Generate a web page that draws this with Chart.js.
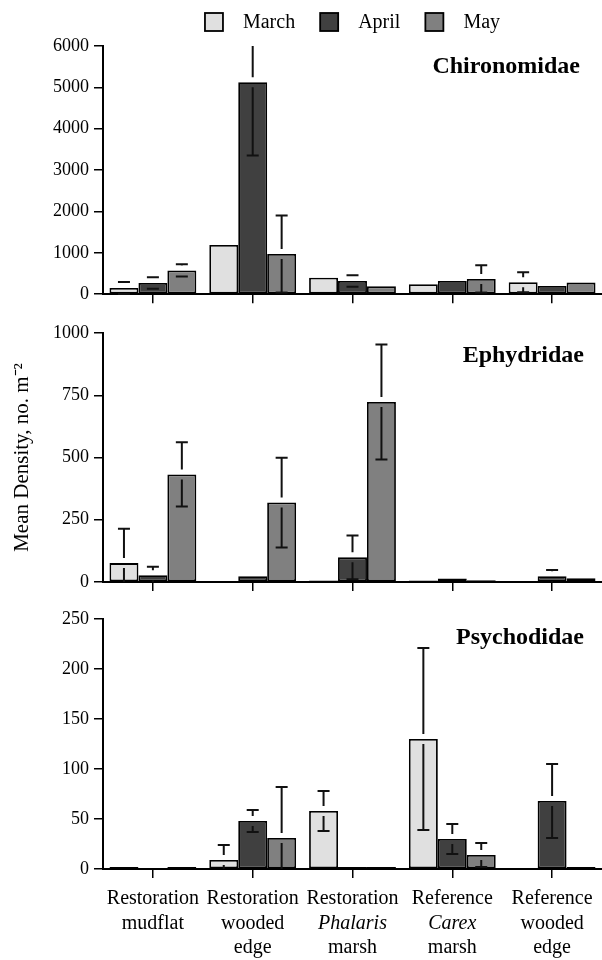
<!DOCTYPE html>
<html>
<head>
<meta charset="utf-8">
<script src="https://cdn.jsdelivr.net/npm/chart.js@4.4.1/dist/chart.umd.min.js"></script>
<style>
  html, body { margin: 0; padding: 0; background: #fff; }
  #wrap { position: relative; width: 602px; height: 960px; }
  canvas { position: absolute; left: 0; }
</style>
</head>
<body>
<div id="wrap">
  <canvas id="c1" width="602" height="310" style="top:0"></canvas>
  <canvas id="c2" width="602" height="290" style="top:310px"></canvas>
  <canvas id="c3" width="602" height="360" style="top:600px"></canvas>
</div>
<script>
/* ---------- dados ---------- */
const categories = [
  ["Restoration", "mudflat"],
  ["Restoration", "wooded", "edge"],
  ["Restoration", "Phalaris", "marsh"],
  ["Reference", "Carex", "marsh"],
  ["Reference", "wooded", "edge"]
];
const italicWords = ["Phalaris", "Carex"];
const months = ["March", "April", "May"];
const panelTitles = ["Chironomidae", "Ephydridae", "Psychodidae"];
const yAxisTitle = "Mean Density, no. m\u207B\u00B2";

const yMax = [6000, 1000, 250];
const yStep = [1000, 250, 50];

// Chironomidae
const chiroMarch = [150, 1190, 400, 240, 290];
const chiroApril = [270, 5125, 320, 320, 200];
const chiroMay = [575, 970, 190, 370, 280];
const chiroMarchErr = [145, 0, 0, 0, 240];
const chiroAprilErr = [140, 1770, 140, 0, 0];
const chiroMayErr = [150, 930, 0, 330, 0];

// Ephydridae
const ephyMarch = [76, 0, 6, 6, 0];
const ephyApril = [27, 23, 99, 14, 23];
const ephyMay = [432, 319, 723, 7, 15];
const ephyMarchErr = [138, 0, 0, 0, 0];
const ephyAprilErr = [34, 0, 88, 0, 25];
const ephyMayErr = [129, 180, 231, 0, 0];

// Psychodidae
const psyMarch = [2, 9, 58, 130, 0];
const psyApril = [0, 48, 2, 30, 68];
const psyMay = [2, 31, 2, 14, 2];
const psyMarchErr = [0, 15, 20, 91, 0];
const psyAprilErr = [0, 11, 0, 15, 37];
const psyMayErr = [0, 51, 0, 12, 0];

/* ---------- estilo ---------- */
const monthColors = ["#e0e0e0", "#404040", "#808080"];
const SERIF = "'Liberation Serif', 'Times New Roman', serif";

/* ---------- plugins ---------- */
const errorBarsPlugin = {
  id: "errorBars",
  afterDatasetsDraw(chart) {
    const { ctx, chartArea } = chart;
    const yScale = chart.scales.y;
    const gap = 5, cap = 6;
    ctx.save();
    ctx.strokeStyle = "#111";
    ctx.lineWidth = 2;
    chart.data.datasets.forEach((ds, i) => {
      const meta = chart.getDatasetMeta(i);
      meta.data.forEach((bar, j) => {
        const err = ds.errors[j];
        if (!err) return;
        const v = ds.data[j];
        const hi = v + err;
        const lo = v - err;
        const yHi = hi > yScale.max ? chartArea.top : yScale.getPixelForValue(hi);
        const yLo = lo < 0 ? chartArea.bottom : yScale.getPixelForValue(lo);
        ctx.beginPath();
        if (bar.y - gap > yHi) { ctx.moveTo(bar.x, bar.y - gap); ctx.lineTo(bar.x, yHi); }
        if (bar.y + gap < yLo) { ctx.moveTo(bar.x, bar.y + gap); ctx.lineTo(bar.x, yLo); }
        if (hi <= yScale.max) { ctx.moveTo(bar.x - cap, yHi); ctx.lineTo(bar.x + cap, yHi); }
        if (lo >= 0) { ctx.moveTo(bar.x - cap, yLo); ctx.lineTo(bar.x + cap, yLo); }
        ctx.stroke();
      });
    });
    ctx.restore();
  }
};

const panelTitlePlugin = {
  id: "panelTitle",
  afterDraw(chart, args, opts) {
    const { ctx, chartArea } = chart;
    ctx.save();
    ctx.font = "bold 24px " + SERIF;
    ctx.fillStyle = "#000";
    ctx.textAlign = "right";
    ctx.textBaseline = "middle";
    ctx.fillText(opts.text, chartArea.right - opts.dx, chartArea.top + opts.dy);
    ctx.restore();
  }
};

const monthLegendPlugin = {
  id: "monthLegend",
  afterDraw(chart) {
    const { ctx, chartArea } = chart;
    const box = 18, gapText = 20, gapItem = 25, y = 13;
    ctx.save();
    ctx.font = "20px " + SERIF;
    const items = chart.data.datasets.map(ds => ({
      label: ds.label,
      color: ds.backgroundColor,
      w: ctx.measureText(ds.label).width
    }));
    const total = items.reduce((s, it) => s + box + gapText + it.w, 0) + gapItem * (items.length - 1);
    let x = (chartArea.left + chartArea.right) / 2 - total / 2;
    items.forEach(it => {
      ctx.fillStyle = it.color;
      ctx.fillRect(x, y, box, box);
      ctx.strokeStyle = "#000";
      ctx.lineWidth = 1.8;
      ctx.strokeRect(x, y, box, box);
      ctx.fillStyle = "#000";
      ctx.textAlign = "left";
      ctx.textBaseline = "middle";
      ctx.fillText(it.label, x + box + gapText, y + box / 2 + 1);
      x += box + gapText + it.w + gapItem;
    });
    ctx.restore();
  }
};

const categoryLabelPlugin = {
  id: "categoryLabels",
  afterDraw(chart) {
    const { ctx, chartArea } = chart;
    const xScale = chart.scales.x;
    ctx.save();
    ctx.fillStyle = "#000";
    ctx.textAlign = "center";
    ctx.textBaseline = "middle";
    categories.forEach((lines, i) => {
      const x = xScale.getPixelForValue(i);
      lines.forEach((line, k) => {
        ctx.font = (italicWords.includes(line) ? "italic " : "") + "20px " + SERIF;
        ctx.fillText(line, x, chartArea.bottom + 30 + k * 24.5);
      });
    });
    ctx.restore();
  }
};

/* ---------- montagem ---------- */
function makePanel(canvasId, idx, values, errors, layout) {
  const datasets = months.map((m, i) => ({
    label: m,
    data: values[i],
    errors: errors[i],
    backgroundColor: monthColors[i],
    borderColor: "#000",
    borderWidth: 1.8,
    borderSkipped: false,
    categoryPercentage: 0.87,
    barPercentage: 1
  }));

  const plugins = [errorBarsPlugin, panelTitlePlugin].concat(layout.extraPlugins || []);

  return new Chart(document.getElementById(canvasId), {
    type: "bar",
    data: { labels: categories.map(l => l.join(" ")), datasets },
    plugins,
    options: {
      responsive: false,
      animation: false,
      devicePixelRatio: 1,
      layout: { padding: { top: layout.padTop, left: 0, right: 0, bottom: 0 } },
      plugins: {
        legend: { display: false },
        tooltip: { enabled: false },
        panelTitle: { text: panelTitles[idx], dx: layout.titleDx, dy: layout.titleDy }
      },
      scales: {
        x: {
          ticks: { display: false },
          grid: {
            drawOnChartArea: false,
            drawTicks: true,
            tickLength: 9,
            offset: false,
            color: "#000",
            lineWidth: 1.5
          },
          border: { color: "#000", width: 2 },
          afterFit: s => { s.height = layout.xHeight; }
        },
        y: {
          min: 0,
          max: yMax[idx],
          ticks: {
            stepSize: yStep[idx],
            callback: v => String(v),
            color: "#000",
            padding: 5,
            font: { family: SERIF, size: 18 }
          },
          grid: {
            drawOnChartArea: false,
            tickLength: 9,
            color: "#000",
            lineWidth: 1.5
          },
          border: { color: "#000", width: 2 },
          title: {
            display: !!layout.yTitle,
            text: yAxisTitle,
            color: "#000",
            font: { family: SERIF, size: 21 },
            padding: { top: 10, bottom: 0 }
          },
          afterFit: s => { s.width = 103; }
        }
      }
    }
  });
}

makePanel("c1", 0,
  [chiroMarch, chiroApril, chiroMay],
  [chiroMarchErr, chiroAprilErr, chiroMayErr],
  { padTop: 46, xHeight: 15, titleDx: 22, titleDy: 21, extraPlugins: [monthLegendPlugin] });

makePanel("c2", 1,
  [ephyMarch, ephyApril, ephyMay],
  [ephyMarchErr, ephyAprilErr, ephyMayErr],
  { padTop: 23, xHeight: 18, titleDx: 18, titleDy: 23, yTitle: true });

makePanel("c3", 2,
  [psyMarch, psyApril, psyMay],
  [psyMarchErr, psyAprilErr, psyMayErr],
  { padTop: 19, xHeight: 91, titleDx: 18, titleDy: 19, extraPlugins: [categoryLabelPlugin] });
</script>
</body>
</html>
